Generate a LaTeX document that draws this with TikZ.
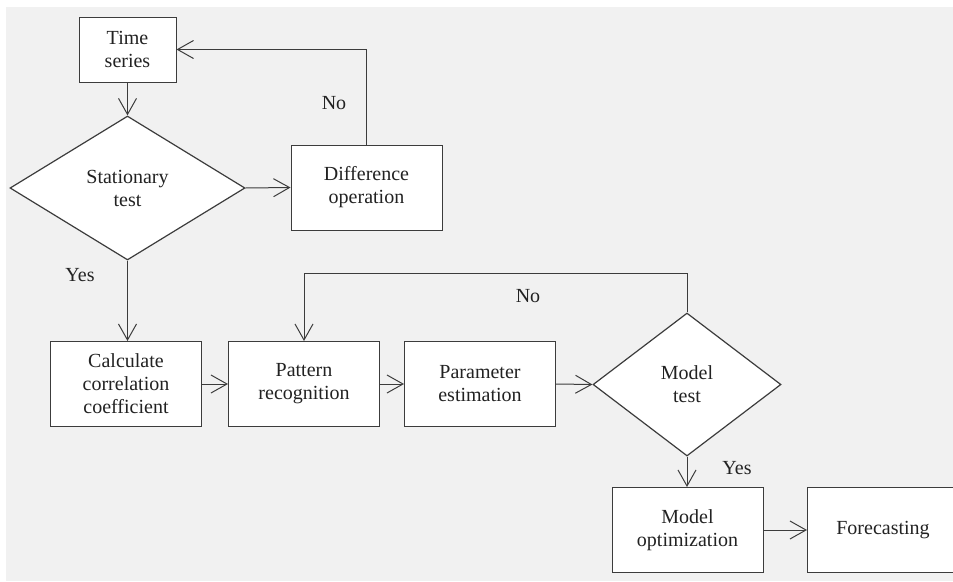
\documentclass[tikz,border=0pt]{standalone}
\usepackage{fontspec}
\newfontfamily\diagfont{Liberation Serif}
\usetikzlibrary{shapes.geometric,arrows.meta}

\definecolor{bggray}{HTML}{F1F1F1}
\definecolor{linegray}{HTML}{3C3C3C}
\definecolor{textgray}{HTML}{222222}

\tikzset{
  box/.style={draw=linegray, line width=1pt, fill=white, rectangle,
    minimum width=151pt, minimum height=85pt, align=center, inner sep=0pt},
  decision/.style={draw=linegray, line width=1.2pt, fill=white, diamond,
    align=center, inner sep=0pt},
  flow/.style={draw=linegray, line width=1pt,
    -{Straight Barb[length=16pt, width=18pt, line width=1pt]}},
  lbl/.style={text=textgray}
}

\begin{document}
\begin{tikzpicture}[x=1pt, y=-1pt, font=\diagfont\fontsize{20}{23}\selectfont, text=textgray]

	\useasboundingbox (0,0) rectangle (953,581);
	\clip (0,0) rectangle (953,581);
	\fill[bggray] (6,7) rectangle (953,581);

	\node[box, minimum width=97pt, minimum height=65pt] (ts) at (127.5,49.5) {Time\\series};
	\node[decision, minimum width=235pt, minimum height=144pt] (stat) at (127.5,188) {Stationary\\test};
	\node[box] (diff) at (366.5,187.5) {Difference\\operation};
	\node[box] (calc) at (126,384) {Calculate\\correlation\\coefficient};
	\node[box] (patt) at (304,384) {Pattern\\recognition};
	\node[box] (param) at (480,384) {Parameter\\estimation};
	\node[decision, minimum width=188pt, minimum height=143pt] (mtest) at (687,384.5) {Model\\test};
	\node[box] (mopt) at (687.5,530) {Model\\optimization};
	\node[box] (fore) at (883,530) {Forecasting};

	\coordinate (loop) at (687,273);

	\draw[flow] (ts.south) -- (stat.north);
	\draw[flow] (stat.east) -- (diff.west);
	\draw[flow] (diff.north) |- (ts.east);
	\draw[flow] (stat.south) -- (calc.north -| stat.south);
	\draw[flow] (calc.east) -- (patt.west);
	\draw[flow] (patt.east) -- (param.west);
	\draw[flow] (param.east) -- (mtest.west);
	\draw[flow] (mtest.north) -- (loop) -| (patt.north);
	\draw[flow] (mtest.south) -- (mopt.north -| mtest.south);
	\draw[flow] (mopt.east) -- (fore.west);

	\node[lbl] (no1) at (334,103) {No};
	\node[lbl] (yes1) at (80,275) {Yes};
	\node[lbl] (no2) at (528,296) {No};
	\node[lbl] (yes2) at (737,468) {Yes};

\end{tikzpicture}
\end{document}
